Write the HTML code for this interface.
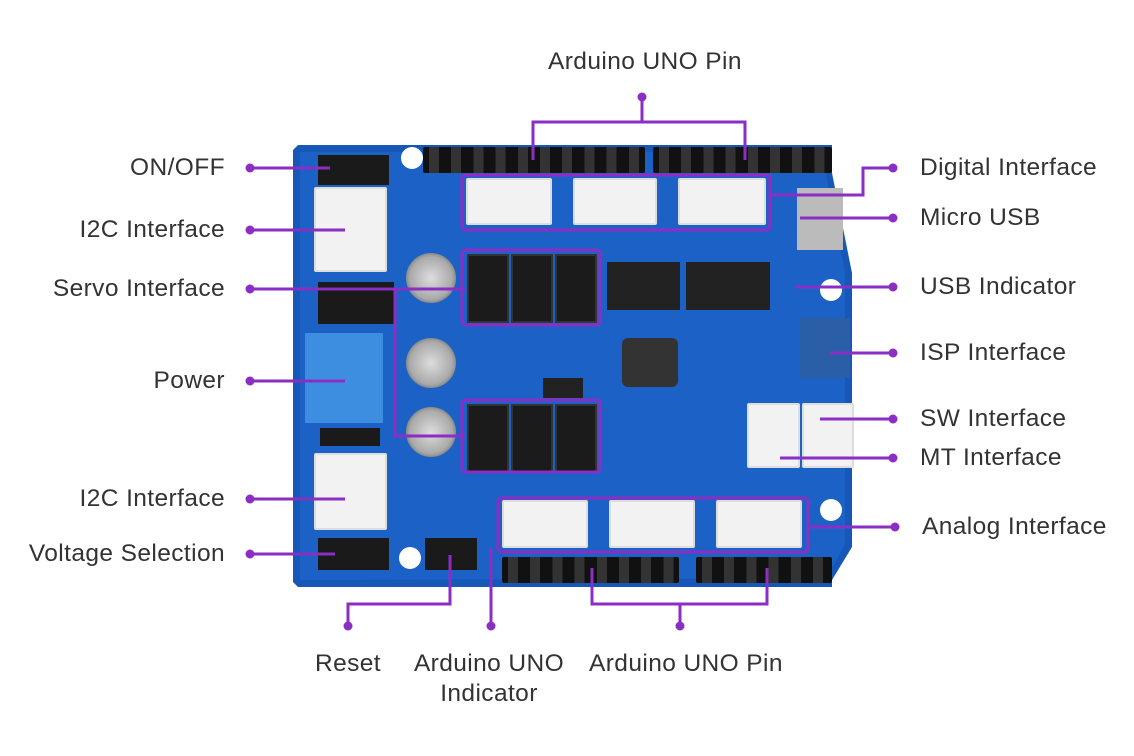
<!DOCTYPE html>
<html><head><meta charset="utf-8"><style>
body{margin:0;width:1134px;height:756px;background:#fff;position:relative;overflow:hidden;font-family:"Liberation Sans",sans-serif}
.t{position:absolute;font-size:24.5px;letter-spacing:0.4px;color:#333;white-space:nowrap;line-height:26px}
.r{text-align:right}
.a{position:absolute}
.hdr{position:absolute;background:#1a1a1a;border-radius:2px;background-image:repeating-linear-gradient(90deg,#111 0 6px,#333 6px 16px,#111 16px 22.2px)}
.wc{position:absolute;background:#f2f2f2;border:2px solid #ddd;box-sizing:border-box;border-radius:2px}
.bk{position:absolute;background:#1b1b1b;border:2px solid #333;box-sizing:border-box}
.cap{position:absolute;border-radius:50%;background:radial-gradient(circle,#ddd 0,#aaa 60%,#333 100%)}
.hole{position:absolute;border-radius:50%;background:#fff;width:22px;height:22px}
</style></head><body>
<svg class="a" style="left:0;top:0" width="1134" height="756">
<polygon points="293,150 298,145 832,145 832,173 852,273 852,547 832,580 832,587 298,587 293,582" fill="#1757b8"/>
<polygon points="300,152 826,152 826,175 845,273 845,545 826,578 300,580" fill="#1c62c6"/>
</svg>
<div class="hdr" style="left:423px;top:147px;width:222px;height:26px"></div>
<div class="hdr" style="left:653px;top:147px;width:179px;height:26px"></div>
<div class="hdr" style="left:502px;top:557px;width:177px;height:26px"></div>
<div class="hdr" style="left:696px;top:557px;width:136px;height:26px"></div>
<div class="wc" style="left:466px;top:178px;width:86px;height:47px"></div>
<div class="wc" style="left:573px;top:178px;width:84px;height:47px"></div>
<div class="wc" style="left:678px;top:178px;width:88px;height:47px"></div>
<div class="bk" style="left:467px;top:254px;width:42px;height:69px"></div>
<div class="bk" style="left:511px;top:254px;width:42px;height:69px"></div>
<div class="bk" style="left:555px;top:254px;width:42px;height:69px"></div>
<div class="bk" style="left:467px;top:404px;width:42px;height:69px"></div>
<div class="bk" style="left:511px;top:404px;width:42px;height:69px"></div>
<div class="bk" style="left:555px;top:404px;width:42px;height:69px"></div>
<div class="wc" style="left:502px;top:500px;width:86px;height:48px"></div>
<div class="wc" style="left:609px;top:500px;width:86px;height:48px"></div>
<div class="wc" style="left:716px;top:500px;width:86px;height:48px"></div>
<div class="wc" style="left:314px;top:187px;width:73px;height:85px"></div>
<div class="wc" style="left:314px;top:453px;width:73px;height:77px"></div>
<div class="a" style="left:305px;top:333px;width:78px;height:90px;background:#3d8ee0"></div>
<div class="a" style="left:318px;top:155px;width:71px;height:30px;background:#1a1a1a"></div>
<div class="a" style="left:318px;top:538px;width:71px;height:32px;background:#1a1a1a"></div>
<div class="a" style="left:318px;top:282px;width:76px;height:42px;background:#1a1a1a"></div>
<div class="a" style="left:320px;top:428px;width:60px;height:18px;background:#1a1a1a"></div>
<div class="wc" style="left:747px;top:403px;width:53px;height:65px"></div>
<div class="wc" style="left:802px;top:403px;width:52px;height:65px"></div>
<div class="a" style="left:797px;top:188px;width:46px;height:62px;background:#bbb"></div>
<div class="a" style="left:607px;top:262px;width:73px;height:48px;background:#222"></div>
<div class="a" style="left:686px;top:262px;width:84px;height:48px;background:#222"></div>
<div class="a" style="left:622px;top:338px;width:56px;height:49px;background:#333;border-radius:6px"></div>
<div class="a" style="left:425px;top:538px;width:52px;height:32px;background:#1a1a1a"></div>
<div class="a" style="left:543px;top:378px;width:40px;height:20px;background:#222"></div>
<div class="a" style="left:800px;top:318px;width:50px;height:60px;background:#2a5fa8"></div>
<div class="cap" style="left:406px;top:253px;width:50px;height:50px"></div>
<div class="cap" style="left:406px;top:338px;width:50px;height:50px"></div>
<div class="cap" style="left:406px;top:407px;width:50px;height:50px"></div>
<div class="hole" style="left:401px;top:147px"></div>
<div class="hole" style="left:820px;top:279px"></div>
<div class="hole" style="left:820px;top:499px"></div>
<div class="hole" style="left:399px;top:547px"></div>
<svg class="a" style="left:0;top:0" width="1134" height="756">
<g fill="none" stroke="#8a2ec4" stroke-width="3">
<rect x="462" y="175" width="308" height="55" rx="4"/>
<rect x="462" y="250" width="138" height="75" rx="4"/>
<rect x="462" y="400" width="138" height="72" rx="4"/>
<rect x="498" y="498" width="310" height="54" rx="4"/>
<path d="M642 97V122M533 160V122H745V160"/>
<path d="M250 168H330M250 230H345M250 289H465M395 289V436H465M250 381H345M250 499H345M250 554H335"/>
<path d="M348 626V604H450V555M491 626V548M680 626V604M592 568V604H767V568"/>
<path d="M893 168H863V195H770M893 218H800M893 287H795M893 353H830M893 419H820M893 458H780M895 527H810"/>
</g>
<g fill="#8a2ec4">
<circle cx="642" cy="97" r="4.5"/><circle cx="250" cy="168" r="4.5"/><circle cx="250" cy="230" r="4.5"/><circle cx="250" cy="289" r="4.5"/><circle cx="250" cy="381" r="4.5"/><circle cx="250" cy="499" r="4.5"/><circle cx="250" cy="554" r="4.5"/>
<circle cx="348" cy="626" r="4.5"/><circle cx="491" cy="626" r="4.5"/><circle cx="680" cy="626" r="4.5"/>
<circle cx="893" cy="168" r="4.5"/><circle cx="893" cy="218" r="4.5"/><circle cx="893" cy="287" r="4.5"/><circle cx="893" cy="353" r="4.5"/><circle cx="893" cy="419" r="4.5"/><circle cx="893" cy="458" r="4.5"/><circle cx="895" cy="527" r="4.5"/>
</g>
</svg>
<div class="t" style="left:548px;top:49px">Arduino UNO Pin</div>
<div class="t r" style="right:909px;top:155px">ON/OFF</div>
<div class="t r" style="right:909px;top:217px">I2C Interface</div>
<div class="t r" style="right:909px;top:276px">Servo Interface</div>
<div class="t r" style="right:909px;top:368px">Power</div>
<div class="t r" style="right:909px;top:486px">I2C Interface</div>
<div class="t r" style="right:909px;top:541px">Voltage Selection</div>
<div class="t" style="left:315px;top:651px">Reset</div>
<div class="t" style="left:400px;top:651px;text-align:center;width:178px">Arduino UNO<br><span style="line-height:34px">Indicator</span></div>
<div class="t" style="left:589px;top:651px">Arduino UNO Pin</div>
<div class="t" style="left:920px;top:155px">Digital Interface</div>
<div class="t" style="left:920px;top:205px">Micro USB</div>
<div class="t" style="left:920px;top:274px">USB Indicator</div>
<div class="t" style="left:920px;top:340px">ISP Interface</div>
<div class="t" style="left:920px;top:406px">SW Interface</div>
<div class="t" style="left:920px;top:445px">MT Interface</div>
<div class="t" style="left:922px;top:514px">Analog Interface</div>
</body></html>
